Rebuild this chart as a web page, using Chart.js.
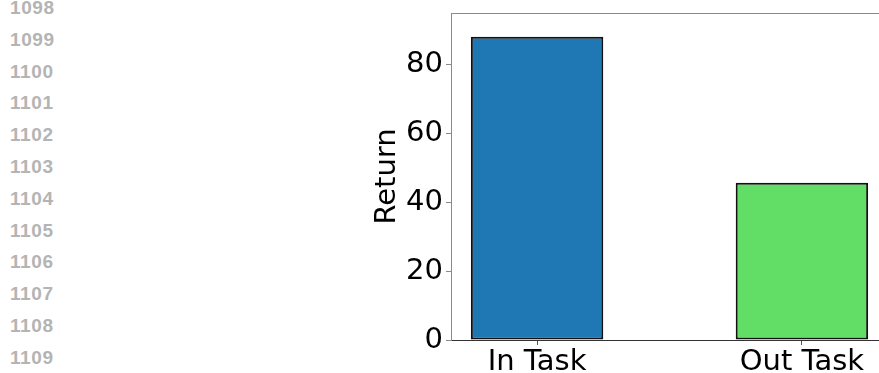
<!DOCTYPE html>
<html>
<head>
<meta charset="utf-8">
<script src="https://cdn.jsdelivr.net/npm/chart.js@4"></script>
<style>
  html, body { margin: 0; padding: 0; background: #fff; overflow: hidden; }
  #wrap { position: absolute; left: 0; top: 0; width: 900px; height: 373px; }
  #lines { position: absolute; left: 10px; top: 0; }
  .ln {
    position: absolute; left: 0; height: 20px; line-height: 20px;
    font-family: "Liberation Sans", Arial, sans-serif; font-weight: bold;
    font-size: 19px; letter-spacing: 0.6px; color: #b4b4b4;
  }
</style>
</head>
<body>
<div id="lines"></div>
<div id="wrap"><canvas id="cv" width="900" height="373"></canvas></div>
<script>

const categories = ["In Task", "Out Task"];
const returns = [88.1, 45.7];
const barColors = ["#1f77b4", "#62dd66"];
const yTicks = [0, 20, 40, 60, 80];
const lineNumbers = [1098, 1099, 1100, 1101, 1102, 1103, 1104, 1105, 1106, 1107, 1108, 1109];


// margin line numbers, like in the paper draft
const lines = document.getElementById("lines");
lineNumbers.forEach(function (n, i) {
    const d = document.createElement("div");
    d.className = "ln";
    d.textContent = n;
    d.style.top = (8 + 31.8 * i - 10) + "px";
    lines.appendChild(d);
});


const topSpine = {
    id: "topSpine",
    afterDraw(chart) {
        const a = chart.chartArea;
        const ctx = chart.ctx;
        ctx.save();
        ctx.strokeStyle = "#8a8a8a";
        ctx.lineWidth = 1;
        ctx.beginPath();
        ctx.moveTo(a.left, a.top + 0.5);
        ctx.lineTo(a.right, a.top + 0.5);
        ctx.stroke();
        ctx.restore();
    }
};

const font = { family: "'DejaVu Sans', sans-serif", size: 29 };

new Chart(document.getElementById("cv"), {
    type: "bar",
    data: {
        datasets: [{
            label: "Return",
            data: returns.map((v, i) => ({ x: i, y: v })),
            backgroundColor: barColors,
            borderColor: "#111",
            borderWidth: 2,
            borderSkipped: false,
            barPercentage: 0.5,
            categoryPercentage: 1.0
        }]
    },
    options: {
        responsive: false,
        animation: false,
        layout: { padding: { left: 366, right: 12, top: 13, bottom: 0 } },
        plugins: { legend: { display: false }, tooltip: { enabled: false } },
        scales: {
            x: {
                type: "linear",
                min: -0.325,
                max: 1.325,
                offset: false,
                afterBuildTicks: (s) => { s.ticks = categories.map((c, i) => ({ value: i })); },
                afterFit: (s) => { s.height = 33; s.paddingLeft = 0; s.paddingRight = 0; },
                ticks: {
                    color: "#000",
                    font: font,
                    padding: 0,
                    maxRotation: 0,
                    callback: (v) => categories[v]
                },
                grid: { offset: false, drawOnChartArea: false, tickLength: 5, tickColor: "#555" },
                border: { color: "#333", width: 1 }
            },
            y: {
                min: 0,
                max: 95,
                afterBuildTicks: (s) => { s.ticks = yTicks.map((v) => ({ value: v })); },
                afterFit: (s) => { s.width = 85; s.paddingTop = 0; s.paddingBottom = 0; },
                ticks: { color: "#000", font: font, padding: 3 },
                grid: { drawOnChartArea: false, tickLength: 5, tickColor: "#8a8a8a" },
                border: { color: "#8a8a8a", width: 1 },
                title: { display: true, text: "Return", color: "#000", font: font, padding: { top: 4, bottom: 4 } }
            }
        }
    },
    plugins: [topSpine]
});
</script>
</body>
</html>
